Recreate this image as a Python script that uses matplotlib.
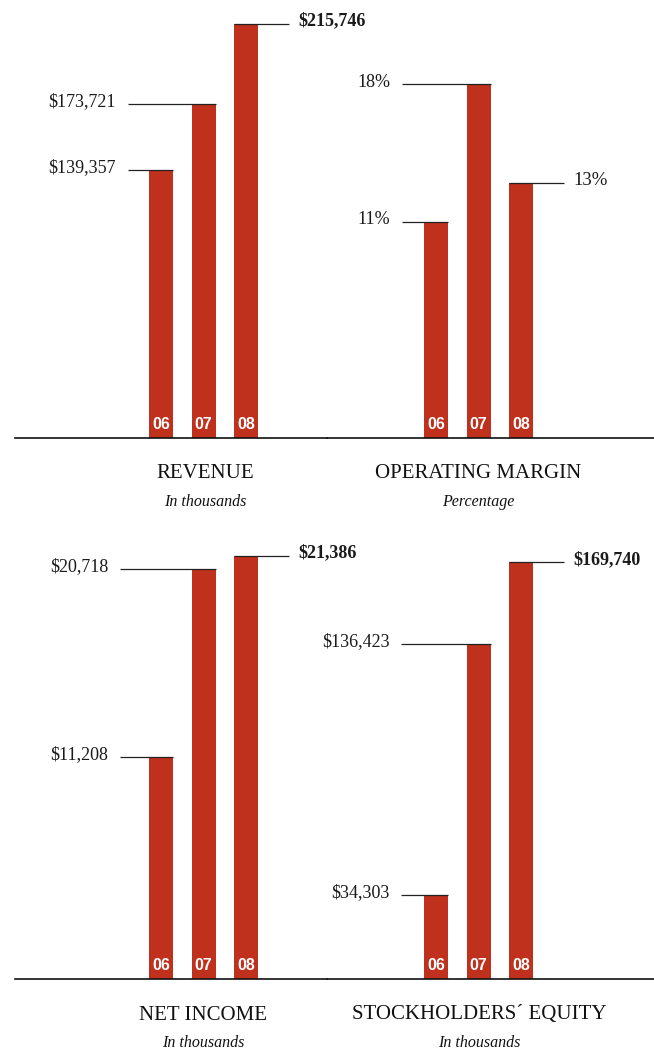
import matplotlib
matplotlib.use("Agg")
import matplotlib.pyplot as plt

# ---- data -------------------------------------------------------------
years = ["06", "07", "08"]
revenue = [139357, 173721, 215746]
op_margin = [11, 18, 13]
net_income = [11208, 20718, 21386]
equity = [34303, 136423, 169740]

titles = ["REVENUE", "OPERATING MARGIN", "NET INCOME", "STOCKHOLDERS\u00b4 EQUITY"]
subtitles = ["In thousands", "Percentage", "In thousands", "In thousands"]

# ---- style ------------------------------------------------------------
BAR_RED = "#BF301D"
SERIF = ["Liberation Serif", "DejaVu Serif"]
NARROW = ["Liberation Sans Narrow", "Liberation Sans", "DejaVu Sans"]

W, H = 654, 1051
fig = plt.figure(figsize=(W / 100, H / 100), dpi=100)


def rect(left, top, right, bottom):
    """Pixel box -> figure fraction [l, b, w, h]."""
    return [left / W, 1 - bottom / H, (right - left) / W, (bottom - top) / H]


STEP = 42.5  # pixels between bar centres
BAR_W = 24 / STEP


def panel(box, first_center_px, ymax, values, fmt, lead_start, last_bold=True):
    ax = fig.add_axes(rect(*box))
    left_px, right_px = box[0], box[2]
    ax.set_xlim((left_px - first_center_px) / STEP, (right_px - first_center_px) / STEP)
    ax.set_ylim(0, ymax)
    x = list(range(len(values)))
    ax.bar(x, values, width=BAR_W, color=BAR_RED, zorder=2)

    for sp in ("left", "right", "top"):
        ax.spines[sp].set_visible(False)
    ax.spines["bottom"].set_linewidth(1.2)
    ax.spines["bottom"].set_color("#111111")
    ax.set_xticks([])
    ax.set_yticks([])
    ax.patch.set_alpha(0)

    half = BAR_W / 2
    for i, v in enumerate(values):
        # year inside the bar
        ax.annotate(years[i], xy=(i, 0), xytext=(0, 10), textcoords="offset points",
                    ha="center", va="center", color="white", fontsize=11.5,
                    fontweight="bold", family=NARROW, zorder=4, annotation_clip=False)
        if i < len(values) - 1:
            ax.hlines(v, lead_start, i + half, color="#222222", lw=0.9, zorder=3)
            ax.annotate(fmt(v), xy=(lead_start, v), xytext=(-8.5, -1.5),
                        textcoords="offset points", ha="right", va="baseline",
                        fontsize=13, family=SERIF, color="#1a1a1a", annotation_clip=False)
        else:
            ax.hlines(v, i - half, 3.0, color="#222222", lw=0.9, zorder=3)
            ax.annotate(fmt(v), xy=(3.0, v), xytext=(7, -1.5),
                        textcoords="offset points", ha="left", va="baseline",
                        fontsize=13.5 if not last_bold else 13,
                        fontweight="bold" if last_bold else "normal", family=SERIF,
                        color="#1a1a1a", annotation_clip=False)
    return ax


money = lambda v: f"${v:,}"
pct = lambda v: f"{v}%"

panel((15, 0, 327, 438), 161, 228000, revenue, money, -0.78)
panel((327, 0, 654, 438), 436, 22.3, op_margin, pct, -0.80, last_bold=False)
panel((15, 525, 327, 979), 161, 22929, net_income, money, -0.965)
panel((327, 525, 654, 979), 436, 184778, equity, money, -0.82)

# ---- panel captions ----------------------------------------------------
caption_pos = [(205, 473, 502), (478, 473, 502), (203, 1015, 1043), (479, 1014, 1043)]
for (cx, ty, sy), t, s in zip(caption_pos, titles, subtitles):
    fig.text(cx / W, 1 - ty / H, t, ha="center", va="center", fontsize=15,
             family=SERIF, color="#111111")
    fig.text(cx / W, 1 - sy / H, s, ha="center", va="center", fontsize=11.5,
             family=SERIF, style="italic", color="#111111")

fig.savefig("out.png", dpi=100, facecolor="white")
